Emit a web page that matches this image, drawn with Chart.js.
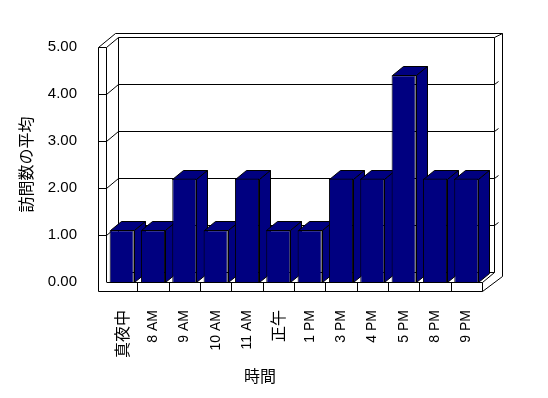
<!DOCTYPE html>
<html>
<head>
<meta charset="utf-8">
<script src="https://cdn.jsdelivr.net/npm/chart.js@4/dist/chart.umd.min.js"></script>
<style>
  html, body { margin: 0; padding: 0; background: #fff; }
  #wrap { width: 548px; height: 398px; }
</style>
</head>
<body>
<div id="wrap"><canvas id="chart"></canvas></div>
<script>
const categories = ['真夜中', '8 AM', '9 AM', '10 AM', '11 AM', '正午', '1 PM', '3 PM', '4 PM', '5 PM', '8 PM', '9 PM'];
const visits = [1.1, 1.1, 2.2, 1.1, 2.2, 1.1, 1.1, 2.2, 2.2, 4.4, 2.2, 2.2];
const yTickLabels = ['0.00', '1.00', '2.00', '3.00', '4.00', '5.00'];

const NAVY = '#000080';

// walls, floor, gridlines and the top/side faces of the bars (fake 3D)
const wall3d = {
  id: 'wall3d',
  beforeDatasetsDraw(chart) {
    const { ctx, chartArea: a, scales: { x, y } } = chart;
    const L = a.left, R = a.right, T = a.top, B = a.bottom;
    const W = 8, FH = 9;        // wall / floor thickness
    const dx = 12, dy = -10;    // inner depth
    const ox = 17, oy = -14;    // outer depth
    const rx = 20;              // right outer edge
    const p = v => Math.round(v) + 0.5;
    const line = pts => {
      ctx.beginPath();
      ctx.moveTo(p(pts[0][0]), p(pts[0][1]));
      for (let i = 1; i < pts.length; i++) ctx.lineTo(p(pts[i][0]), p(pts[i][1]));
      ctx.stroke();
    };

    ctx.save();
    ctx.strokeStyle = '#000';
    ctx.lineWidth = 1;

    // left wall front + top
    line([[L - W, B + FH], [L - W, T], [L, T], [L, B]]);
    line([[L - W, T], [L - W + ox, T + oy], [R + rx, T + oy]]);
    line([[L, T], [L + dx, T + dy], [R + dx, T + dy], [R + rx, T + oy]]);
    // back wall edges
    line([[L + dx, T + dy], [L + dx, B + dy]]);
    line([[R + dx, T + dy], [R + dx, B + dy]]);
    line([[R + rx, T + oy], [R + rx, B + FH - 15]]);

    // gridlines
    yTickLabels.forEach((_, i) => {
      if (i === 0 || i === yTickLabels.length - 1) return;
      const yy = y.getPixelForValue(i);
      line([[L - W, yy], [L, yy], [L + dx, yy + dy], [R + dx, yy + dy], [R + dx + 4, yy + dy - 3]]);
    });

    // floor
    ctx.fillStyle = '#fff';
    ctx.fillRect(L, B, R - L, FH);
    line([[L - W, B + FH], [R, B + FH], [R, B], [L, B]]);
    line([[L + dx, B + dy], [R + dx, B + dy]]);
    line([[R, B], [R + dx, B + dy]]);
    line([[R, B + FH], [R + rx, B + FH - 15]]);
    for (let i = 1; i < categories.length; i++) {
      const xx = x.getPixelForValue(i - 0.5);
      line([[xx, B], [xx, B + FH]]);
    }

    // bar tops and sides, left to right
    const bx = 11, by = -9;
    ctx.fillStyle = NAVY;
    chart.getDatasetMeta(0).data.forEach(bar => {
      const { x: cx, y: top, base, width } = bar.getProps(['x', 'y', 'base', 'width'], true);
      const l = cx - width / 2, r = cx + width / 2;
      const faces = [
        [[l, top], [r, top], [r + bx, top + by], [l + bx, top + by]],
        [[r, top], [r + bx, top + by], [r + bx, base + by], [r, base]]
      ];
      faces.forEach(f => {
        ctx.beginPath();
        ctx.moveTo(p(f[0][0]), p(f[0][1]));
        f.slice(1).forEach(pt => ctx.lineTo(p(pt[0]), p(pt[1])));
        ctx.closePath();
        ctx.fill();
        ctx.stroke();
      });
    });
    ctx.restore();
  },
  afterDraw(chart) {
    const { ctx } = chart;
    ctx.save();
    ctx.fillStyle = '#000';
    ctx.font = '16px "Noto Sans CJK JP"';
    ctx.textAlign = 'center';
    ctx.textBaseline = 'middle';
    ctx.fillText('時間', 260, 376);
    ctx.restore();
  }
};

Chart.defaults.font.family = '"Liberation Sans", "Noto Sans CJK JP"';
Chart.defaults.color = '#000';

new Chart(document.getElementById('chart'), {
  type: 'bar',
  data: {
    labels: categories,
    datasets: [{
      label: '訪問数の平均',
      data: visits,
      backgroundColor: NAVY,
      borderColor: '#000',
      borderWidth: 1,
      barPercentage: 0.77,
      categoryPercentage: 1.0
    }]
  },
  options: {
    responsive: true,
    maintainAspectRatio: false,
    animation: false,
    layout: { padding: { top: 47, right: 66, left: 0, bottom: 0 } },
    plugins: {
      legend: { display: false },
      tooltip: { enabled: false }
    },
    scales: {
      x: {
        grid: { display: false },
        border: { display: false },
        ticks: {
          autoSkip: false,
          minRotation: 90,
          maxRotation: 90,
          padding: 20,
          font: c => /[^\x00-\x7f]/.test(c.tick && c.tick.label)
            ? { family: '"Noto Sans CJK JP"', size: 16 }
            : { family: '"Liberation Sans"', size: 14 }
        },
        afterFit: s => { s.height = 116; }
      },
      y: {
        min: 0,
        max: 5,
        grid: { display: false },
        border: { display: false },
        ticks: {
          stepSize: 1,
          padding: 21,
          font: { size: 15 },
          callback: (v, i) => yTickLabels[i]
        },
        title: {
          display: true,
          text: '訪問数の平均',
          font: { family: '"Noto Sans CJK JP"', size: 16 },
          padding: { top: 16, bottom: 0 }
        },
        afterFit: s => { s.width = 106; }
      }
    }
  },
  plugins: [wall3d]
});
</script>
</body>
</html>
